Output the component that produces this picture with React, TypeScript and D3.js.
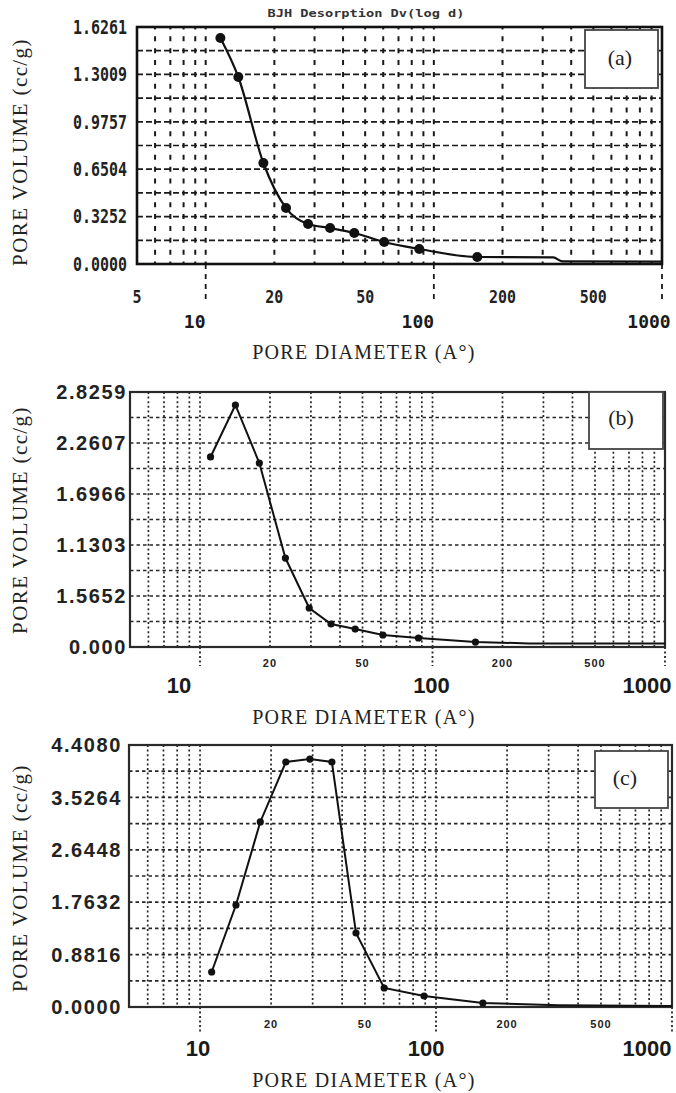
import React, { useEffect, useRef } from 'react';
import * as d3 from 'd3';

// ---- data ----
// (a)
const diamA = [11.6, 13.9, 17.9, 22.5, 28.1, 35.1, 44.8, 60.6, 86.3, 155];
const volA = [1.551, 1.283, 0.693, 0.384, 0.274, 0.247, 0.213, 0.151, 0.103, 0.048];
const tailDiamA = [334, 365, 1000];
const tailVolA = [0.045, 0.018, 0.016];
const yTicksA = [0, 0.3252, 0.6504, 0.9757, 1.3009, 1.6261];
const yLabelsA = ['0.0000', '0.3252', '0.6504', '0.9757', '1.3009', '1.6261'];

// (b)
const diamB = [11.1, 14.2, 18.0, 23.3, 29.5, 36.6, 46.5, 61.2, 87, 153];
const volB = [2.106, 2.682, 2.039, 0.986, 0.432, 0.255, 0.199, 0.133, 0.1, 0.055];
const tailDiamB = [260, 1000];
const tailVolB = [0.04, 0.04];
const yTicksB = [0, 0.5652, 1.1303, 1.6955, 2.2607, 2.8259];
const yLabelsB = ['0.000', '1.5652', '1.1303', '1.6966', '2.2607', '2.8259'];

// (c)
const diamC = [11.2, 14.2, 18.0, 23.1, 29.2, 36.2, 45.8, 60.3, 89, 158];
const volC = [0.589, 1.716, 3.113, 4.122, 4.172, 4.122, 1.245, 0.32, 0.185, 0.067];
const tailDiamC = [330, 1000];
const tailVolC = [0.03, 0.015];
const yTicksC = [0, 0.8816, 1.7632, 2.6448, 3.5264, 4.408];
const yLabelsC = ['0.0000', '0.8816', '1.7632', '2.6448', '3.5264', '4.4080'];

// x axis labels
const minorTicksA = [5, 20, 50, 200, 500];
const minorTicks = [20, 50, 200, 500];
const majorTicks = [10, 100, 1000];

const yTitle = 'PORE VOLUME (cc/g)';
const xTitle = 'PORE DIAMETER (A°)';
const topTitle = 'BJH Desorption Dv(log d)';

const sans = "'Liberation Sans', Arial, sans-serif";
const serif = "'Liberation Serif', 'Times New Roman', serif";
const mono = "'DejaVu Sans Mono', monospace";

const panels = [
  {
    tag: '(a)', diam: diamA, vol: volA, tailDiam: tailDiamA, tailVol: tailVolA,
    yTicks: yTicksA, yLabels: yLabelsA, minor: minorTicksA,
    x0: 137, x1: 662, y0: 27, y1: 264,
    legend: [585, 30, 658, 88], tagPos: [620, 57],
    yLabelX: 127, minorY: 297, majorY: 322, majorShift: [-11, -16, -13],
    xTitleY: 352, yTitleY: 152, tickExt: 40,
    oldStyle: true,
  },
  {
    tag: '(b)', diam: diamB, vol: volB, tailDiam: tailDiamB, tailVol: tailVolB,
    yTicks: yTicksB, yLabels: yLabelsB, minor: minorTicks,
    x0: 130, x1: 665, y0: 392, y1: 647,
    legend: [589, 392, 663, 449], tagPos: [621, 417],
    yLabelX: 127, minorY: 663, majorY: 685, majorShift: [-21, -1, -18],
    xTitleY: 717, yTitleY: 520, tickExt: 19,
    oldStyle: false,
  },
  {
    tag: '(c)', diam: diamC, vol: volC, tailDiam: tailDiamC, tailVol: tailVolC,
    yTicks: yTicksC, yLabels: yLabelsC, minor: minorTicks,
    x0: 129, x1: 672, y0: 745, y1: 1007,
    legend: [595, 751, 668, 808], tagPos: [625, 777],
    yLabelX: 122, minorY: 1024, majorY: 1048, majorShift: [-2, -10, -25],
    xTitleY: 1080, yTitleY: 878, tickExt: 25,
    oldStyle: false,
  },
];

const App = () => {
  const ref = useRef<SVGSVGElement>(null);

  useEffect(() => {
    document.body.style.margin = '0';
    const svg = d3.select(ref.current);
    svg.selectAll('*').remove();

    panels.forEach((p) => {
      const g = svg.append('g');
      const yMax = p.yTicks[p.yTicks.length - 1];
      const x = d3.scaleLog().domain([5, 1000]).range([p.x0, p.x1]);
      const y = d3.scaleLinear().domain([0, yMax]).range([p.y1, p.y0]);
      const gridColor = p.oldStyle ? '#1a1a1a' : '#262626';
      // half of the horizontal grid spacing
      const step = (p.y1 - p.y0) / 20;

      // vertical grid at 6..9, 10..90, 100..900
      const vLines = x.ticks().filter((t) => t > 5 && t < 1000);
      g.selectAll('.vgrid')
        .data(vLines)
        .enter()
        .append('line')
        .attr('x1', (d) => x(d))
        .attr('x2', (d) => x(d))
        .attr('y1', p.y0)
        .attr('y2', p.y1)
        .attr('stroke', gridColor)
        .attr('stroke-width', p.oldStyle ? 2 : 1.7)
        .attr('stroke-dasharray', p.oldStyle ? `5,${(step - 5).toFixed(2)}` : '2,2.6')
        .attr('stroke-dashoffset', p.oldStyle ? 2.5 : 0);

      // horizontal grid at every half tick
      const hLines = d3.range(1, 10).map((i) => (i * yMax) / 10);
      g.selectAll('.hgrid')
        .data(hLines)
        .enter()
        .append('line')
        .attr('x1', p.x0)
        .attr('x2', p.x1)
        .attr('y1', (d) => y(d))
        .attr('y2', (d) => y(d))
        .attr('stroke', gridColor)
        .attr('stroke-width', p.oldStyle ? 1.7 : 1.7)
        .attr('stroke-dasharray', p.oldStyle ? '6,3' : '3.5,3');

      // decade ticks running below the axis
      g.selectAll('.ext')
        .data(majorTicks)
        .enter()
        .append('line')
        .attr('x1', (d) => x(d))
        .attr('x2', (d) => x(d))
        .attr('y1', p.y1)
        .attr('y2', p.y1 + p.tickExt)
        .attr('stroke', gridColor)
        .attr('stroke-width', 1.8)
        .attr('stroke-dasharray', p.oldStyle ? '5,5' : '2,2.5');

      // frame
      g.append('rect')
        .attr('x', p.x0)
        .attr('y', p.y0)
        .attr('width', p.x1 - p.x0)
        .attr('height', p.y1 - p.y0)
        .attr('fill', 'none')
        .attr('stroke', p.oldStyle ? '#111' : '#2a2a2a')
        .attr('stroke-width', p.oldStyle ? 2.6 : 2.2);

      // legend box
      const [lx0, ly0, lx1, ly1] = p.legend;
      g.append('rect')
        .attr('x', lx0)
        .attr('y', ly0)
        .attr('width', lx1 - lx0)
        .attr('height', ly1 - ly0)
        .attr('fill', 'white')
        .attr('stroke', '#444')
        .attr('stroke-width', 1.8);
      g.append('text')
        .attr('x', p.tagPos[0])
        .attr('y', p.tagPos[1])
        .attr('dy', '0.35em')
        .attr('text-anchor', 'middle')
        .attr('font-family', serif)
        .attr('font-size', 22)
        .attr('fill', '#222')
        .text(p.tag);

      // curve + markers
      const pts: [number, number][] = p.diam.map((d, i) => [d, p.vol[i]]);
      const tail: [number, number][] = p.tailDiam.map((d, i) => [d, p.tailVol[i]]);
      const line = d3
        .line<[number, number]>()
        .x((d) => x(d[0]))
        .y((d) => y(d[1]))
        .curve(p.oldStyle ? d3.curveMonotoneX : d3.curveLinear);
      g.append('path')
        .datum(pts.concat(tail))
        .attr('d', line)
        .attr('fill', 'none')
        .attr('stroke', '#111')
        .attr('stroke-width', p.oldStyle ? 2.2 : 2);
      g.selectAll('.pt')
        .data(pts)
        .enter()
        .append('circle')
        .attr('cx', (d) => x(d[0]))
        .attr('cy', (d) => y(d[1]))
        .attr('r', p.oldStyle ? 5 : 3.6)
        .attr('fill', '#111');

      // y tick labels
      g.selectAll('.ylab')
        .data(p.yTicks)
        .enter()
        .append('text')
        .attr('x', p.yLabelX)
        .attr('y', (d) => y(d))
        .attr('dy', '0.36em')
        .attr('text-anchor', 'end')
        .attr('font-family', p.oldStyle ? mono : sans)
        .attr('font-weight', 'bold')
        .attr('font-size', p.oldStyle ? 19 : 20)
        .attr('letter-spacing', p.oldStyle ? 0 : 1.6)
        .attr('fill', '#222')
        .each(function (d, i) {
          const t = d3.select(this).text(p.yLabels[i]);
          if (p.oldStyle) {
            t.attr('textLength', p.yLabels[i].length * 9).attr('lengthAdjust', 'spacingAndGlyphs');
          }
        });

      // x tick labels: small row, then decades
      g.selectAll('.xmin')
        .data(p.minor)
        .enter()
        .append('text')
        .attr('x', (d) => x(d))
        .attr('y', p.minorY)
        .attr('dy', '0.36em')
        .attr('text-anchor', 'middle')
        .attr('font-family', p.oldStyle ? mono : sans)
        .attr('font-weight', 'bold')
        .attr('font-size', p.oldStyle ? 18 : 11)
        .attr('letter-spacing', p.oldStyle ? 0 : 1)
        .attr('fill', '#222')
        .each(function (d) {
          const s = String(d);
          const t = d3.select(this).text(s);
          if (p.oldStyle) {
            t.attr('textLength', s.length * 9).attr('lengthAdjust', 'spacingAndGlyphs');
          }
        });
      g.selectAll('.xmaj')
        .data(majorTicks)
        .enter()
        .append('text')
        .attr('x', (d, i) => x(d) + p.majorShift[i])
        .attr('y', p.majorY)
        .attr('dy', '0.36em')
        .attr('text-anchor', 'middle')
        .attr('font-family', p.oldStyle ? mono : sans)
        .attr('font-weight', 'bold')
        .attr('font-size', p.oldStyle ? 18 : 22)
        .attr('fill', '#1a1a1a')
        .text((d) => String(d));

      // axis titles
      g.append('text')
        .attr('x', 364)
        .attr('y', p.xTitleY)
        .attr('dy', '0.35em')
        .attr('text-anchor', 'middle')
        .attr('font-family', serif)
        .attr('font-size', 20)
        .attr('letter-spacing', 1.3)
        .attr('fill', '#222')
        .text(xTitle);
      g.append('text')
        .attr('transform', `translate(27,${p.yTitleY}) rotate(-90)`)
        .attr('text-anchor', 'middle')
        .attr('font-family', serif)
        .attr('font-size', 21)
        .attr('letter-spacing', 1.4)
        .attr('fill', '#222')
        .text(yTitle);
    });

    // instrument title over (a)
    svg
      .append('text')
      .attr('x', 366)
      .attr('y', 13)
      .attr('dy', '0.35em')
      .attr('text-anchor', 'middle')
      .attr('font-family', mono)
      .attr('font-weight', 'bold')
      .attr('font-size', 11)
      .attr('fill', '#333')
      .attr('textLength', 197)
      .attr('lengthAdjust', 'spacingAndGlyphs')
      .text(topTitle);
  }, []);

  return <svg ref={ref} width={676} height={1093} style={{ display: 'block', background: 'white' }} />;
};

export default App;
